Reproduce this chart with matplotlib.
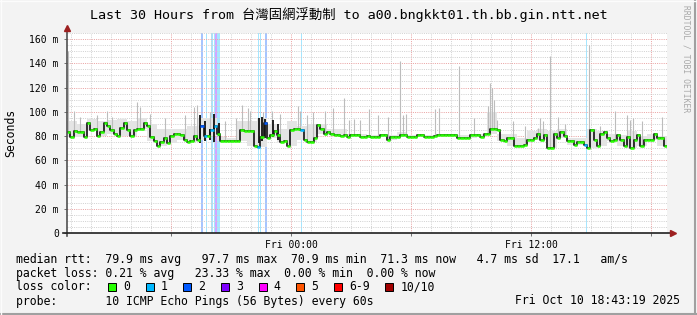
import numpy as np
import matplotlib.pyplot as plt
from matplotlib.patches import Rectangle
from matplotlib.lines import Line2D

plt.rcParams['font.family'] = ['DejaVu Sans Mono', 'Noto Sans CJK TC']

title = 'Last 30 Hours from 台灣固網浮動制 to a00.bngkkt01.th.bb.gin.ntt.net'

# median rtt in ms, one value every 10 minutes from Thu 12:48
start_h = 12.8
median = [83, 79, 84, 83, 83, 79, 91, 85, 86, 80,
          83, 91, 88, 85, 82, 80, 87, 91, 85, 80,
          85, 86, 86, 91, 88, 79, 76, 72, 75, 78,
          74, 80, 82, 82, 81, 77, 75, 76, 80, 77,
          88, 80, 80, 85, 88, 82, 76, 75.5, 75.5, 75.5,
          75.5, 76, 85, 84, 84, 84, 72, 71, 79, 91,
          78, 81, 84, 81, 75, 76, 72, 85, 86, 86,
          85, 77, 75, 75, 78, 89, 86, 82, 83, 82,
          81, 81, 80, 81, 79.5, 80.5, 80.5, 80.5, 79.5, 79.5,
          80, 79, 79, 79, 80.5, 80.5, 76.5, 79, 79, 79,
          80.5, 80.5, 79.5, 79.5, 79.5, 80.5, 80.5, 79, 79, 79,
          80, 81, 81, 81, 81, 81, 81, 78.5, 78.5, 78.5,
          78.5, 80.5, 80.5, 80.5, 79.5, 82, 82, 86, 86, 85,
          76.5, 76, 78, 78, 72, 72, 72, 73, 76.5, 77,
          78, 82, 77, 81, 70, 70, 82, 78, 83, 80,
          76, 76, 73, 75, 75, 73, 70, 85, 77, 72,
          82, 83, 78, 76, 77, 80.5, 76.5, 72, 79.5, 70,
          76.5, 80.5, 72, 77, 76.5, 77, 82, 78, 78, 72]

# upper edge of the light smoke, one value every 30 minutes
smoke_hi = [92, 90, 94, 92, 93, 94, 92, 95, 90, 86,
            86, 86, 88, 95, 95, 79, 78, 92, 92, 95,
            90, 86, 92, 88, 90, 90, 86, 86, 82, 82,
            81, 81, 81, 83, 81, 81, 81, 82, 82, 81,
            81, 82, 100, 82, 82, 78, 84, 86, 84, 86,
            78, 78, 86, 84, 82, 81, 84, 80, 82, 80]

# smoke: highest ping of the interval (light gray spikes)
spike_h = [12.85, 13.15, 13.45, 14.3, 14.8, 15.05, 16.3, 16.45, 16.95, 17.7,
           18.7, 19.15, 19.3, 19.95, 20.7, 21.25, 21.55, 21.85, 21.95, 22.6,
           23.05, 23.45, 24.35, 24.45, 24.8, 25.1, 25.7, 26.1, 26.65, 26.9,
           27.15, 27.45, 27.9, 28.35, 28.85, 29.45, 29.6, 29.75, 31.2, 31.4,
           32.4, 33.15, 33.85, 33.95, 34.05, 34.15, 34.3, 35.1, 35.7, 36.35,
           36.45, 36.6, 36.95, 37.35, 37.7, 38.9, 39.45, 40.2, 40.8, 40.95,
           41.1, 41.55, 42.55]
spike_top = [150, 101, 96, 97, 101, 96, 108, 104, 98, 95,
             97, 104, 106, 100, 92, 95, 106, 103, 101, 100,
             101, 98, 105, 101, 97, 100, 101, 103, 111, 93,
             94, 93, 102, 97, 96, 142, 97, 98, 102, 103,
             138, 95, 105, 124, 120, 110, 93, 92, 88, 87,
             95, 92, 146, 96, 90, 155, 88, 101, 97, 93,
             95, 92, 96]

# dense smoke (dark) during the lossy stretches
dark_h = [19.45, 19.7, 19.95, 20.15, 20.4, 22.4, 22.55, 22.7, 23.1, 23.35]
dark_lo = [74, 76, 77, 75, 80, 74, 76, 78, 79, 77]
dark_hi = [97, 92, 86, 98, 91, 95, 96, 94, 93, 90]

# packet loss events: start (hours), duration (minutes), lost pings
loss_h = [19.5, 19.725, 20.0, 20.165, 20.215, 20.285, 22.335, 22.465, 22.685, 24.5, 38.75]
loss_min = [6, 3, 6, 3, 4, 10, 5, 3, 6, 3, 3]
loss_cnt = [2, 1, 1, 1, 3, 1, 1, 1, 2, 1, 1]

loss_labels = ['0', '1', '2', '3', '4', '5', '6-9', '10/10']
loss_colors = ['#26ff00', '#00b8ff', '#0059ff', '#7e00ff', '#ff00ff', '#ff5500', '#ff0000', '#a10000']

x_ticks = [18, 24, 30, 36, 42]
x_labels = ['', 'Fri 00:00', '', 'Fri 12:00', '']
y_ticks = [0, 20, 40, 60, 80, 100, 120, 140, 160]

legend_lines = [
    'median rtt:  79.9 ms avg   97.7 ms max  70.9 ms min  71.3 ms now   4.7 ms sd  17.1   am/s',
    'packet loss: 0.21 % avg   23.33 % max  0.00 % min  0.00 % now',
    'loss color:',
    'probe:       10 ICMP Echo Pings (56 Bytes) every 60s',
]
stamp = 'Fri Oct 10 18:43:19 2025'


def level(c):
    if c <= 5:
        return c
    return 6 if c < 10 else 7


W, H = 697, 315
fig = plt.figure(figsize=(W / 100, H / 100), dpi=100, facecolor='#f3f3f3')
ax = fig.add_axes([67 / W, 1 - 233 / H, 600 / W, 200 / H])
ax.set_facecolor('white')

med = np.array(median, dtype=float)
t = start_h + np.arange(len(med)) / 6
step = 1 / 6

# loss background
seg_colors = [loss_colors[0]] * len(med)
for h0, mins, c in zip(loss_h, loss_min, loss_cnt):
    col = loss_colors[level(c)]
    ax.axvspan(h0, h0 + mins / 60, color=col, alpha=0.35, lw=0, zorder=0.5)
    seg_colors[int((h0 - start_h) * 6)] = col

# grid
ax.set_xlim(start_h, start_h + 30)
ax.set_ylim(0, 165)
ax.set_xticks(x_ticks)
ax.set_xticklabels(x_labels)
ax.set_xticks(np.arange(13, 43), minor=True)
ax.set_yticks(y_ticks)
ax.set_yticklabels([f'{v} m' if v else '0' for v in y_ticks])
ax.set_yticks(np.arange(0, 166, 5), minor=True)
ax.grid(which='minor', color='#d2d2d2', lw=0.72, ls=(0, (1, 1.2)), zorder=1)
ax.grid(which='major', color='#eaa4a4', lw=0.72, ls=(0, (1, 1.2)), zorder=1.1)
ax.set_axisbelow(True)
ax.tick_params(which='minor', length=0)
ax.tick_params(which='major', length=2.5, width=0.7, color='#707070', labelsize=7)
ax.tick_params(axis='y', pad=3.4)
ax.tick_params(axis='x', pad=2.2)
for s in ax.spines.values():
    s.set_visible(False)

# light smoke band
bucket_t = start_h + np.arange(len(smoke_hi)) / 2
bucket_lo = med.reshape(len(smoke_hi), -1).min(axis=1)
ax.fill_between(np.append(bucket_t, bucket_t[-1] + 0.5), np.append(bucket_lo, bucket_lo[-1]),
                np.append(smoke_hi, smoke_hi[-1]), step='post', color='#e4e4e4', lw=0, zorder=1.5)

# smoke
base = med[np.clip(((np.array(spike_h) - start_h) * 6).astype(int), 0, len(med) - 1)]
ax.vlines(spike_h, base, spike_top, color='#bcbcbc', lw=0.8, zorder=2)
ax.vlines(dark_h, dark_lo, dark_hi, color='#202020', lw=1.4, zorder=3)

# median line
ax.step(np.append(t, t[-1] + step), np.append(med, med[-1]), where='post',
        color='#111111', lw=1.2, zorder=3)
ax.hlines(med, t, t + step, colors=seg_colors, lw=1.8, zorder=4)

# axes with arrows
ax.add_line(Line2D([0, 0], [-0.015, 1.02], transform=ax.transAxes, color='#505050',
                   lw=1.2, clip_on=False, zorder=5))
ax.add_line(Line2D([-0.007, 1.008], [0, 0], transform=ax.transAxes, color='#202020',
                   lw=1.2, clip_on=False, zorder=5))
ax.plot([0], [1.025], marker='^', ms=5, color='#9d2020', transform=ax.transAxes, clip_on=False, zorder=6)
ax.plot([1.01], [0], marker='>', ms=5, color='#9d2020', transform=ax.transAxes, clip_on=False, zorder=6)

# texts
fig.text(348.5 / W, 1 - 15 / H, title, ha='center', va='center', fontsize=9.6)
fig.text(10.5 / W, 1 - 133 / H, 'Seconds', rotation=90, ha='center', va='center', fontsize=8.3)
fig.text(686 / W, 1 - 5 / H, 'RRDTOOL / TOBI OETIKER', rotation=270, ha='center', va='top',
         fontsize=5.8, color='#a8a8a8')

cw = 6.95
for k, line in enumerate(legend_lines):
    fig.text(16 / W, 1 - (259 + 14 * k) / H, line, ha='left', va='center', fontsize=8.3)
fig.text(680 / W, 1 - 301 / H, stamp, ha='right', va='center', fontsize=8.3)

sx = 108
for lab, col in zip(loss_labels, loss_colors):
    fig.add_artist(Rectangle((sx / W, 1 - 291 / H), 8 / W, 8 / H, transform=fig.transFigure,
                             facecolor=col, edgecolor='black', lw=0.7))
    fig.text((sx + 15) / W, 1 - 287 / H, lab, ha='left', va='center', fontsize=8.3)
    sx = sx + 15 + len(lab) * cw + 15.7

# frame
fig.add_artist(Line2D([0, 1], [1 / H, 1 / H], transform=fig.transFigure, color='#a0a0a0', lw=1.5))
fig.add_artist(Line2D([1 - 2 / W, 1 - 2 / W], [0, 1], transform=fig.transFigure, color='#a0a0a0', lw=1.5))
fig.add_artist(Line2D([0, 1], [1 - 0.5 / H, 1 - 0.5 / H], transform=fig.transFigure, color='#fcfcfc', lw=1))
fig.add_artist(Line2D([0.5 / W, 0.5 / W], [0, 1], transform=fig.transFigure, color='#fcfcfc', lw=1))

fig.savefig('out.png', dpi=100, facecolor=fig.get_facecolor())
